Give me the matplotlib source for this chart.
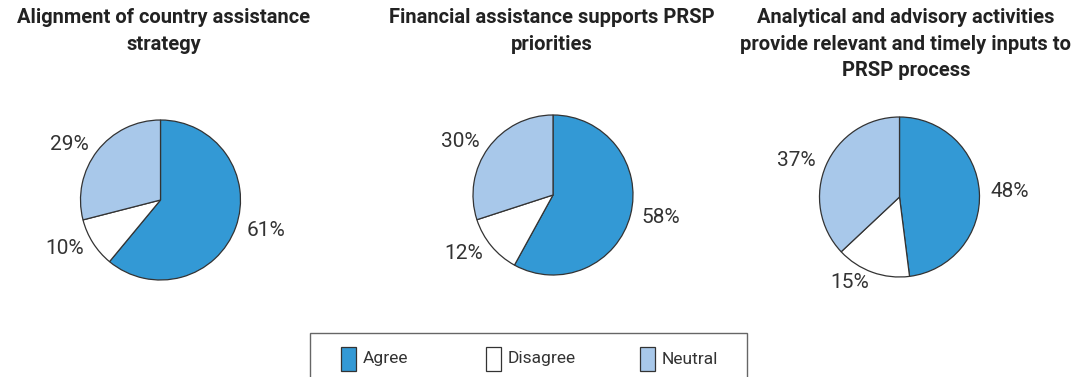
import matplotlib
matplotlib.use("Agg")
import matplotlib.pyplot as plt
from matplotlib.patches import Rectangle

plt.rcParams['font.family'] = ['Roboto', 'DejaVu Sans']

# survey results per question
titles = [
    "Alignment of country assistance\nstrategy",
    "Financial assistance supports PRSP\npriorities",
    "Analytical and advisory activities\nprovide relevant and timely inputs to\nPRSP process",
]
categories = ["Agree", "Disagree", "Neutral"]
agree = [61, 58, 48]
disagree = [10, 12, 15]
neutral = [29, 30, 37]

colors = ["#3399d5", "#ffffff", "#a8c8ea"]

W, H = 1087, 377
fig = plt.figure(figsize=(W / 100, H / 100), dpi=100)

# pie centres and title centres in pixels
centres = [(160.5, 200), (553, 195), (899.5, 197)]
title_x = [164, 552, 906]
r = 80

for i in range(3):
    cx, cy = centres[i]
    half = 1.25 * r
    ax = fig.add_axes([(cx - half) / W, 1 - (cy + half) / H, 2 * half / W, 2 * half / H])
    vals = [agree[i], disagree[i], neutral[i]]
    ax.pie(vals, colors=colors, startangle=90, counterclock=False,
           labels=[f"{v}%" for v in vals], labeldistance=1.14,
           textprops=dict(fontsize=15, color="#333333"),
           wedgeprops=dict(edgecolor="#333333", linewidth=0.9))
    ax.set_aspect("equal")

    fig.text(title_x[i] / W, 1 - 8 / H, titles[i], ha="center", va="top",
             fontsize=14.5, fontweight="bold", color="#222222", linespacing=1.5)

# legend box, drawn by hand so the bottom runs off the edge
fig.patches.append(Rectangle((310 / W, -20 / H), 437 / W, (H - 333 + 20) / H,
                             transform=fig.transFigure, facecolor="none",
                             edgecolor="#666666", linewidth=1.0))
legend_x = [341, 486, 640]
for x, c, name in zip(legend_x, colors, categories):
    fig.patches.append(Rectangle((x / W, 1 - 371 / H), 15 / W, 24 / H,
                                 transform=fig.transFigure, facecolor=c,
                                 edgecolor="#333333", linewidth=0.9))
    fig.text((x + 22) / W, 1 - 359 / H, name, ha="left", va="center",
             fontsize=12.5, color="#333333")

fig.savefig("out.png", dpi=100)
